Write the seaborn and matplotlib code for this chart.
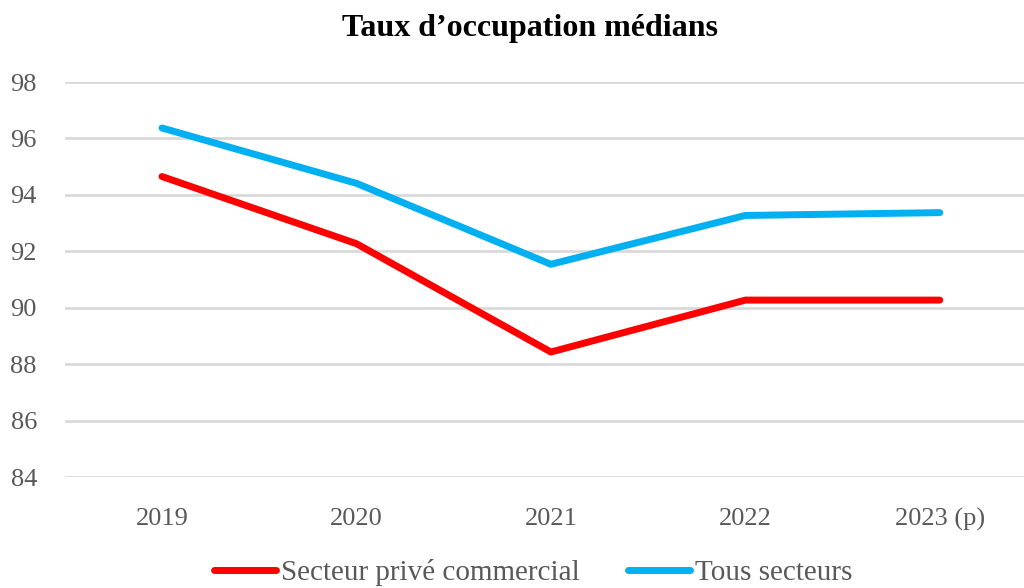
import matplotlib
matplotlib.use("Agg")
import matplotlib.pyplot as plt
import seaborn as sns
import pandas as pd
from matplotlib.lines import Line2D

years = ["2019", "2020", "2021", "2022", "2023 (p)"]
prive_commercial = [94.65, 92.27, 88.43, 90.27, 90.27]
tous_secteurs = [96.37, 94.41, 91.54, 93.27, 93.37]
series_names = ["Secteur privé commercial", "Tous secteurs"]
colors = ["#ff0000", "#00b0f0"]
y_ticks = [84, 86, 88, 90, 92, 94, 96, 98]

sns.set_theme(style="white")
plt.rcParams['font.family'] = ['Liberation Serif', 'DejaVu Serif']

df = pd.DataFrame({
    "value": prive_commercial + tous_secteurs,
    "series": [series_names[0]] * len(years) + [series_names[1]] * len(years),
})
df["x"] = list(range(len(years))) * 2

fig = plt.figure(figsize=(10.24, 5.88), dpi=100)
ax = fig.add_axes([64.75 / 1024, 1 - 477 / 588, (1037 - 64.75) / 1024, (477 - 82) / 588])

sns.lineplot(data=df, x="x", y="value", hue="series", palette=colors,
             hue_order=series_names, linewidth=5, ax=ax, legend=False,
             solid_capstyle="round", solid_joinstyle="round")

ax.set_xlim(-0.5, len(years) - 0.5)
ax.set_ylim(84, 98)
ax.set_yticks(y_ticks)
ax.set_yticklabels([str(t) for t in y_ticks])
ax.set_xticks(range(len(years)))
ax.set_xticklabels(years)
ax.set_xlabel("")
ax.set_ylabel("")
ax.grid(axis="y", color="#d9d9d9", linewidth=2)
ax.set_axisbelow(True)
for s in ax.spines.values():
    s.set_visible(False)
ax.tick_params(axis="both", length=0, labelsize=19, labelcolor="#595959")
ax.tick_params(axis="x", pad=22)
ax.tick_params(axis="y", pad=20)

fig.text(0.518, 0.952, "Taux d\u2019occupation médians", ha="center", va="center",
         fontsize=23, fontweight="bold", color="#000000")

handles = [Line2D([0], [0], color=c, linewidth=5, solid_capstyle="round") for c in colors]
fig.legend(handles, series_names, loc="center", bbox_to_anchor=(0.521, 0.026),
           ncol=2, frameon=False, fontsize=21, labelcolor="#595959",
           handlelength=2.1, handletextpad=0.2, columnspacing=1.65,
           borderpad=0, borderaxespad=0)

fig.savefig("out.png", dpi=100)
